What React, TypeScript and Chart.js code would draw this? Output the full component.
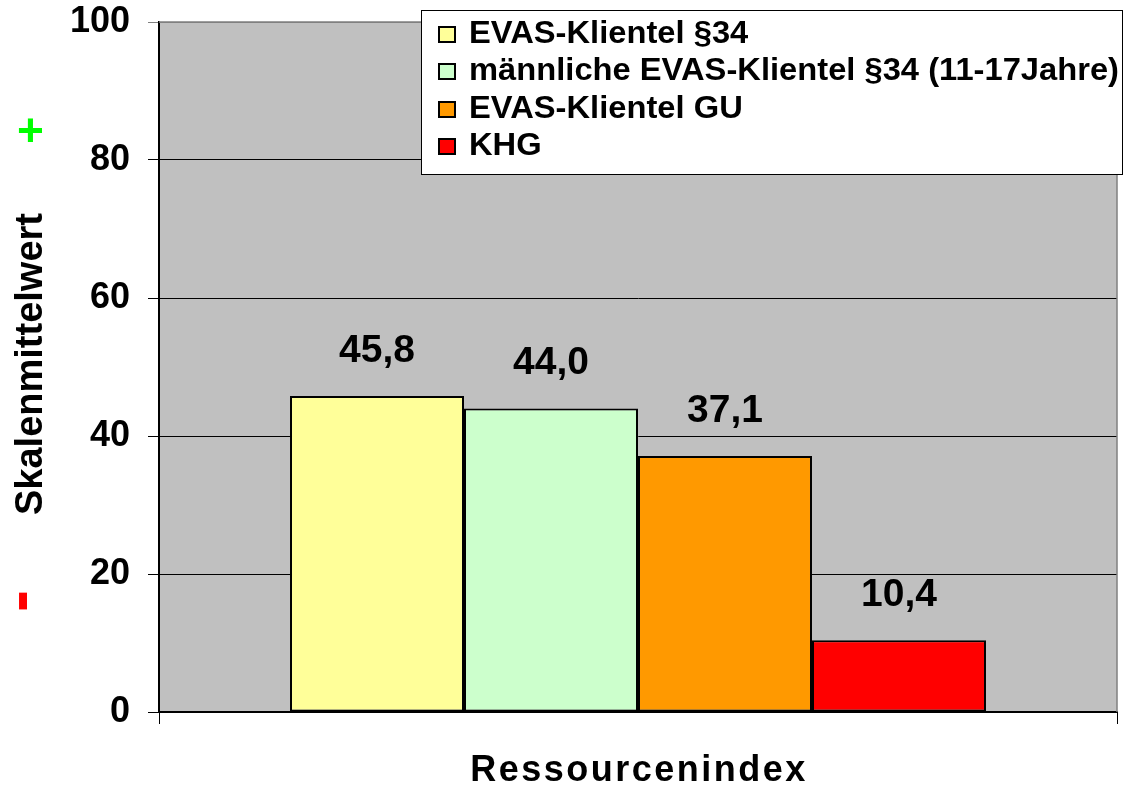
import React, { useEffect, useRef } from 'react';
import { Chart, registerables } from 'chart.js';

Chart.register(...registerables);

const categories = ['Ressourcenindex'];
const seriesLabels = [
  'EVAS-Klientel §34',
  'männliche EVAS-Klientel §34 (11-17Jahre)',
  'EVAS-Klientel GU',
  'KHG',
];
const seriesValues = [45.8, 44.0, 37.1, 10.4];
const seriesColors = ['#FFFF99', '#CCFFCC', '#FF9900', '#FF0000'];
const yTicks = [0, 20, 40, 60, 80, 100];
const yTitle = 'Skalenmittelwert';
const xTitle = 'Ressourcenindex';
const plusLabel = '+';
const minusLabel = '-';

const FONT = '"Liberation Sans", Arial, sans-serif';

const customPlugin = {
  id: 'custom',
  beforeDraw(chart: any) {
    const { ctx, chartArea } = chart;
    ctx.save();
    ctx.fillStyle = '#C0C0C0';
    ctx.fillRect(chartArea.left, chartArea.top, chartArea.right - chartArea.left, chartArea.bottom - chartArea.top);
    ctx.restore();
  },
  afterDraw(chart: any) {
    const { ctx, chartArea } = chart;
    ctx.save();
    // right & top border gray
    ctx.strokeStyle = '#808080';
    ctx.lineWidth = 1.5;
    ctx.beginPath();
    ctx.moveTo(chartArea.left, chartArea.top);
    ctx.lineTo(chartArea.right, chartArea.top);
    ctx.lineTo(chartArea.right, chartArea.bottom);
    ctx.stroke();

    // value labels
    ctx.fillStyle = '#000';
    ctx.font = `bold 39px ${FONT}`;
    ctx.textAlign = 'center';
    ctx.textBaseline = 'middle';
    chart.data.datasets.forEach((ds: any, i: number) => {
      const meta = chart.getDatasetMeta(i);
      meta.data.forEach((bar: any, j: number) => {
        const v = ds.data[j];
        ctx.fillText(v.toFixed(1).replace('.', ','), bar.x, bar.y - 45);
      });
    });

    // legend
    const lx = 421, ly = 10, lw = 702, lh = 165;
    ctx.fillStyle = '#FFFFFF';
    ctx.fillRect(lx, ly, lw, lh);
    ctx.strokeStyle = '#000';
    ctx.lineWidth = 1;
    ctx.strokeRect(lx + 0.5, ly + 0.5, lw - 1, lh - 1);
    ctx.font = `bold 32px ${FONT}`;
    const maxW = Math.max(...seriesLabels.map((s) => ctx.measureText(s).width));
    const sx = 650 / maxW;
    const rowY = [34, 71, 109, 146];
    seriesLabels.forEach((label, i) => {
      const y = rowY[i];
      ctx.fillStyle = seriesColors[i];
      ctx.fillRect(439, y - 7, 16, 15);
      ctx.strokeStyle = '#000';
      ctx.lineWidth = 2;
      ctx.strokeRect(439, y - 7, 16, 15);
      ctx.save();
      ctx.translate(469, y);
      ctx.scale(sx, 1);
      ctx.fillStyle = '#000';
      ctx.textAlign = 'left';
      ctx.textBaseline = 'middle';
      ctx.fillText(label, 0, 0);
      ctx.restore();
    });

    // y title
    ctx.save();
    ctx.translate(32, 364);
    ctx.rotate(-Math.PI / 2);
    ctx.fillStyle = '#000';
    ctx.font = `bold 38px ${FONT}`;
    ctx.textAlign = 'center';
    ctx.textBaseline = 'middle';
    ctx.fillText(yTitle, 0, 0);
    ctx.restore();

    // x title
    ctx.save();
    ctx.fillStyle = '#000';
    ctx.font = `bold 36px ${FONT}`;
    (ctx as any).letterSpacing = '2.5px';
    ctx.textAlign = 'center';
    ctx.textBaseline = 'middle';
    ctx.fillText(xTitle, (chartArea.left + chartArea.right) / 2 + 1, 771);
    ctx.restore();

    // plus / minus markers
    ctx.save();
    ctx.fillStyle = '#00FF00';
    ctx.font = `bold 46px ${FONT}`;
    ctx.textAlign = 'center';
    ctx.textBaseline = 'middle';
    ctx.fillText(plusLabel, 30.5, 133);
    ctx.restore();

    ctx.save();
    ctx.translate(21.5, 601);
    ctx.rotate(-Math.PI / 2);
    ctx.fillStyle = '#FF0000';
    ctx.font = `bold 66px ${FONT}`;
    ctx.textAlign = 'center';
    ctx.textBaseline = 'middle';
    ctx.fillText(minusLabel, 0, 0);
    ctx.restore();

    ctx.restore();
  },
};

export default function App() {
  const ref = useRef<HTMLCanvasElement | null>(null);
  useEffect(() => {
    document.body.style.margin = '0';
    const canvas = ref.current!;
    const chart = new Chart(canvas, {
      type: 'bar',
      data: {
        labels: categories,
        datasets: seriesLabels.map((label, i) => ({
          label,
          data: [seriesValues[i]],
          backgroundColor: seriesColors[i],
          borderColor: '#000',
          borderWidth: 2,
          borderSkipped: false,
        })),
      },
      options: {
        responsive: false,
        animation: false,
        maintainAspectRatio: false,
        layout: { padding: { top: 22, right: 13, left: 0, bottom: 0 } },
        datasets: { bar: { categoryPercentage: 0.7265, barPercentage: 1 } },
        plugins: { legend: { display: false }, tooltip: { enabled: false } },
        scales: {
          x: {
            type: 'category',
            offset: true,
            grid: { drawOnChartArea: false, drawTicks: true, tickLength: 12, color: '#000', offset: true },
            ticks: { display: false },
            border: { color: '#000', width: 2 },
            afterFit: (s: any) => { s.height = 75; s.paddingLeft = 0; s.paddingRight = 0; },
          },
          y: {
            min: 0,
            max: 100,
            afterBuildTicks: (s: any) => { s.ticks = yTicks.map((v) => ({ value: v })); },
            ticks: { font: { family: FONT, size: 36, weight: 'bold' }, color: '#000', padding: 18 },
            grid: { color: (c: any) => (c.tick && c.tick.value === 100 ? '#808080' : '#000'), tickLength: 11, lineWidth: 1 },
            border: { color: '#000', width: 2 },
            afterFit: (s: any) => { s.width = 159; s.paddingTop = 0; s.paddingBottom = 0; },
          },
        },
      },
      plugins: [customPlugin],
    } as any);
    return () => chart.destroy();
  }, []);
  return (
    <div style={{ width: 1130, height: 787, position: 'relative' }}>
      <canvas ref={ref} width={1130} height={787} style={{ display: 'block' }} />
    </div>
  );
}
